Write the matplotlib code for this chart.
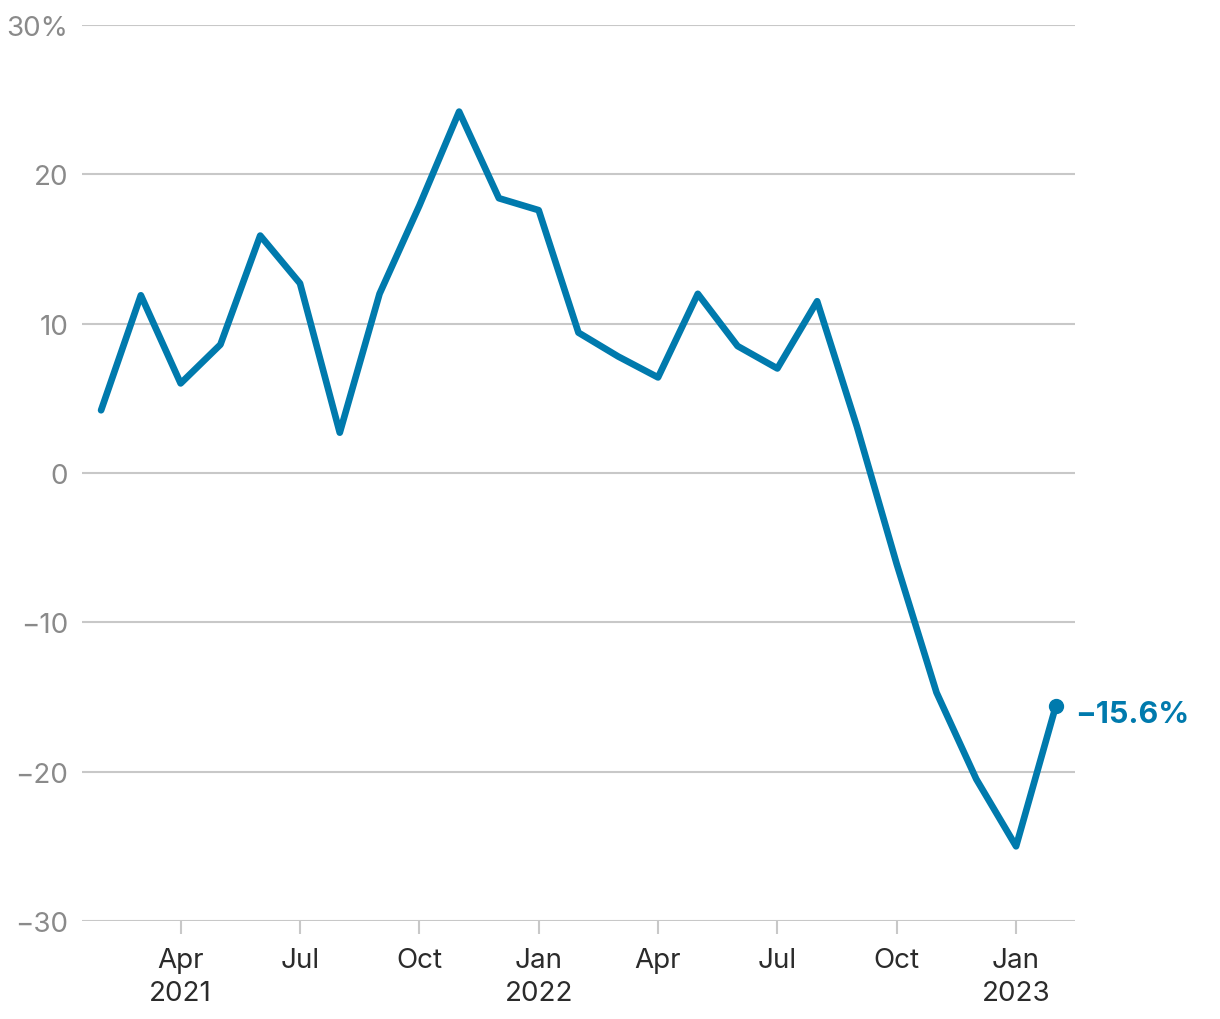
import matplotlib.pyplot as plt

plt.rcParams['font.family'] = ['Inter', 'DejaVu Sans']

# Monthly change, Feb 2021 .. Feb 2023 (percent)
months = ['2021-02', '2021-03', '2021-04', '2021-05', '2021-06', '2021-07', '2021-08',
          '2021-09', '2021-10', '2021-11', '2021-12', '2022-01', '2022-02', '2022-03',
          '2022-04', '2022-05', '2022-06', '2022-07', '2022-08', '2022-09', '2022-10',
          '2022-11', '2022-12', '2023-01', '2023-02']
values = [4.2, 11.9, 6.0, 8.6, 15.9, 12.7, 2.7, 12.0, 17.9, 24.2, 18.4, 17.6, 9.4, 7.8,
          6.4, 12.0, 8.5, 7.0, 11.5, 3.1, -6.1, -14.7, -20.5, -25.0, -15.6]

tick_months = ['2021-04', '2021-07', '2021-10', '2022-01', '2022-04', '2022-07', '2022-10', '2023-01']
tick_labels = ['Apr\n2021', 'Jul', 'Oct', 'Jan\n2022', 'Apr', 'Jul', 'Oct', 'Jan\n2023']
y_ticks = [-30, -20, -10, 0, 10, 20, 30]
y_labels = ['\u221230', '\u221220', '\u221210', '0', '10', '20', '30%']

blue = '#007aad'
grid_c = '#c8c8c8'

x = list(range(len(months)))
tick_pos = [months.index(m) for m in tick_months]

fig = plt.figure(figsize=(12.2, 10.2), dpi=100)
ax = fig.add_axes([0.0672, 0.0961, 0.8139, 0.8784])

ax.plot(x, values, color=blue, lw=4.8, solid_joinstyle='round', solid_capstyle='round',
        clip_on=False, zorder=3)
ax.plot(x[-1], values[-1], 'o', color=blue, ms=10, clip_on=False, zorder=4)
ax.annotate('\u221215.6%', (x[-1], values[-1]), xytext=(14, -6), textcoords='offset points',
            va='center', ha='left', color=blue, fontsize=22, fontweight='bold')

ax.set_xlim(-0.48, 24.48)
ax.set_ylim(-30, 30)
ax.set_yticks(y_ticks)
ax.set_yticklabels(y_labels)
ax.set_xticks(tick_pos)
ax.set_xticklabels(tick_labels, linespacing=1.35)

ax.grid(axis='y', color=grid_c, lw=1.5)
ax.set_axisbelow(True)
for s in ax.spines.values():
    s.set_visible(False)

ax.tick_params(axis='y', length=0, pad=10, labelsize=20, labelcolor='#8a8a8a')
ax.tick_params(axis='x', length=9, width=1.5, color=grid_c, pad=10, labelsize=20,
               labelcolor='#2b2b2b')

fig.savefig('out.png', dpi=100, facecolor='white')
